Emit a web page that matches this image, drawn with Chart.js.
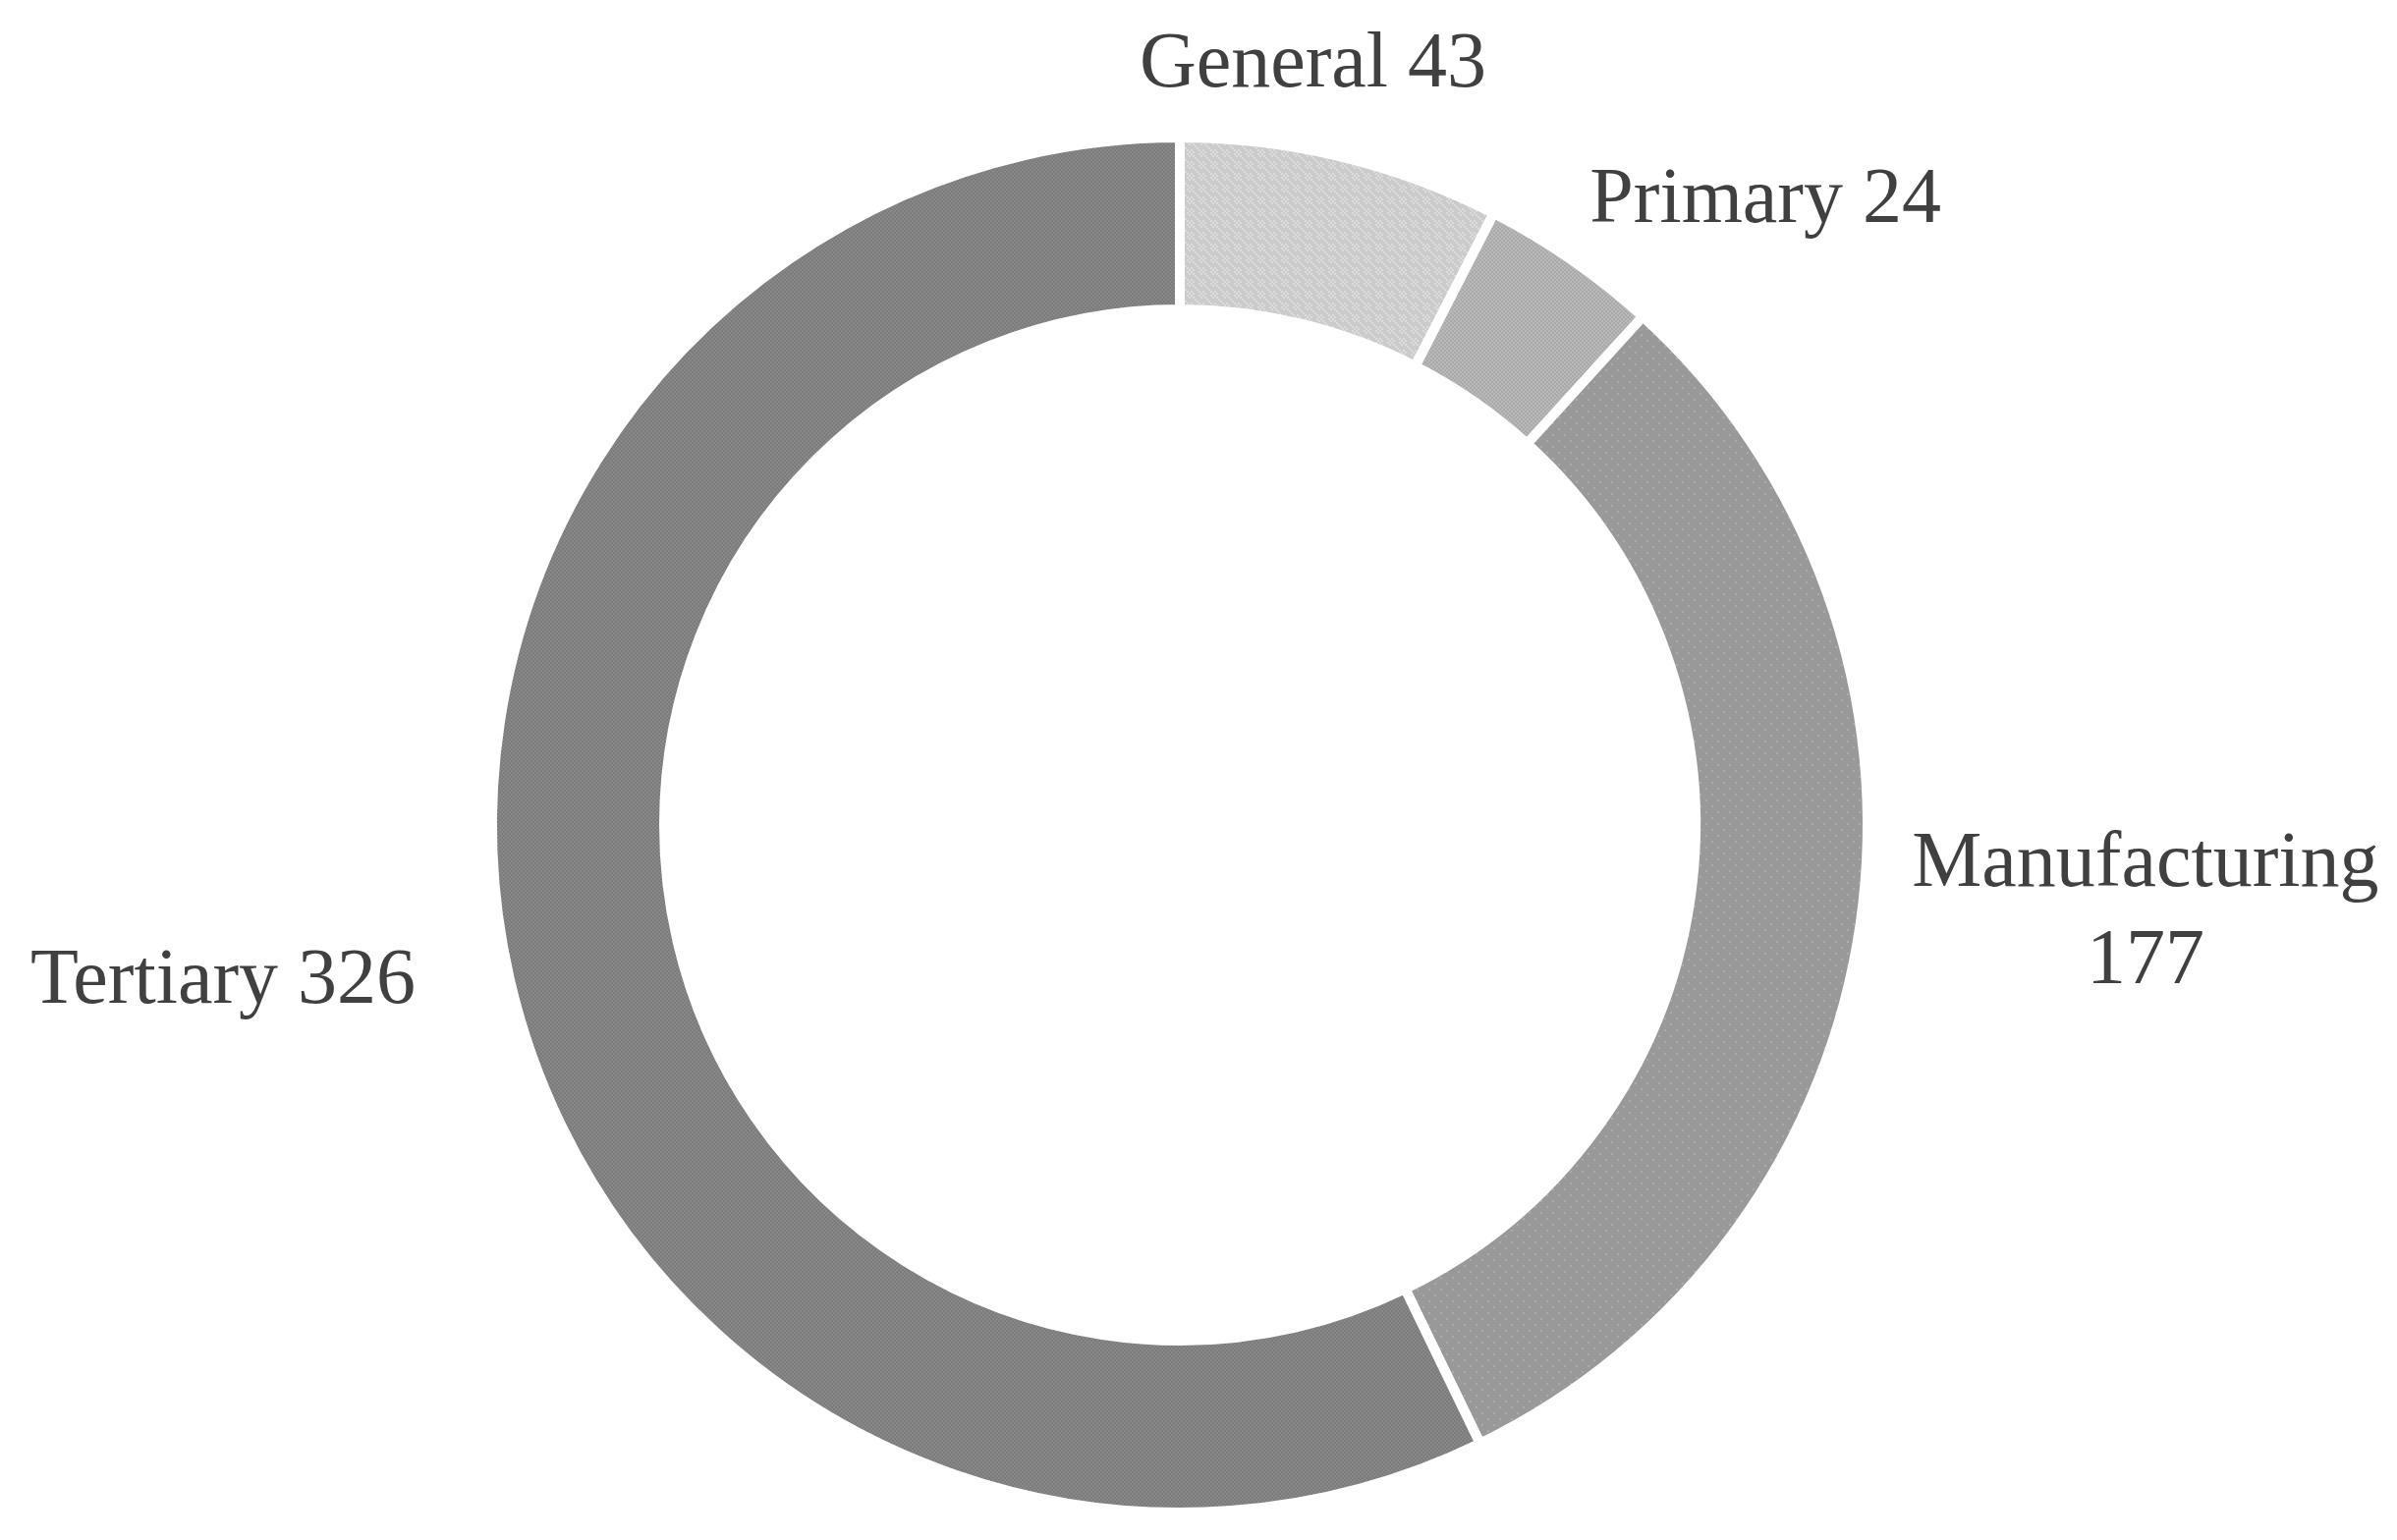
<!DOCTYPE html>
<html>
<head>
<meta charset="utf-8">
<title>Enterprises by sector</title>
<script src="https://cdn.jsdelivr.net/npm/chart.js@4.4.1/dist/chart.umd.min.js"></script>
<style>
  html, body { margin: 0; padding: 0; background: #ffffff; }
  #wrap { width: 2440px; height: 1568px; position: relative; }
</style>
</head>
<body>
<div id="wrap"><canvas id="sectorChart"></canvas></div>
<script>
// Data
const sectors = ['General', 'Primary', 'Manufacturing', 'Tertiary'];
const counts = [43, 24, 177, 326];

// label text lines (Manufacturing wraps in the original)
const labelLines = [['General 43'], ['Primary 24'], ['Manufacturing', '177'], ['Tertiary 326']];

// how far each label sits from the point just outside its slice
const labelNudge = [[-50, -5], [146, 14], [201, -22], [-204, -17]];

// grey dotted fills like the original print
function makePattern(base, dot, kind) {
  const c = document.createElement('canvas');
  c.width = 12; c.height = 12;
  const g = c.getContext('2d');
  g.fillStyle = base;
  g.fillRect(0, 0, 12, 12);
  g.fillStyle = dot;
  for (let y = 0; y < 12; y += 2) {
    for (let x = 0; x < 12; x += 2) {
      if (kind === 'checker') {
        if (((x + y) / 2) % 2 === 0) g.fillRect(x, y, 2, 2);
      } else if (kind === 'dots') {
        if ((x + y * 3) % 8 === 0) g.fillRect(x, y, 2, 2);
      } else if (kind === 'sparse') {
        if (x === 2 && y === 4 || x === 8 && y === 10) g.fillRect(x, y, 2, 2);
      }
    }
  }
  return g.createPattern(c, 'repeat');
}

const fills = [
  makePattern('#cbcbcb', '#dcdcdc', 'dots'),
  makePattern('#a9a9a9', '#b9b9b9', 'checker'),
  makePattern('#999999', '#ababab', 'sparse'),
  makePattern('#7b7b7b', '#888888', 'checker')
];

const outsideLabels = {
  id: 'outsideLabels',
  afterDatasetsDraw(chart) {
    const ctx = chart.ctx;
    const arcs = chart.getDatasetMeta(0).data;
    ctx.save();
    ctx.font = '80px "Liberation Serif", "Times New Roman", serif';
    ctx.fillStyle = '#404040';
    ctx.textAlign = 'center';
    ctx.textBaseline = 'middle';
    const lineH = 99;
    arcs.forEach((arc, i) => {
      const p = arc.getProps(['x', 'y', 'startAngle', 'endAngle', 'outerRadius'], true);
      const mid = (p.startAngle + p.endAngle) / 2;
      const r = p.outerRadius + 90;
      const ax = p.x + Math.cos(mid) * r + labelNudge[i][0];
      const ay = p.y + Math.sin(mid) * r + labelNudge[i][1];
      const lines = labelLines[i];
      const top = ay - (lines.length - 1) * lineH / 2;
      lines.forEach((t, k) => ctx.fillText(t, ax, top + k * lineH));
    });
    ctx.restore();
  }
};

new Chart(document.getElementById('sectorChart'), {
  type: 'doughnut',
  data: {
    labels: sectors,
    datasets: [{
      data: counts,
      backgroundColor: fills,
      borderColor: '#ffffff',
      borderWidth: 10,
      hoverOffset: 0
    }]
  },
  options: {
    responsive: true,
    maintainAspectRatio: false,
    animation: false,
    cutout: '75%',
    layout: {
      padding: { left: 496, right: 534, top: 135, bottom: 23 }
    },
    plugins: {
      legend: { display: false },
      tooltip: { enabled: false }
    }
  },
  plugins: [outsideLabels]
});
</script>
</body>
</html>
